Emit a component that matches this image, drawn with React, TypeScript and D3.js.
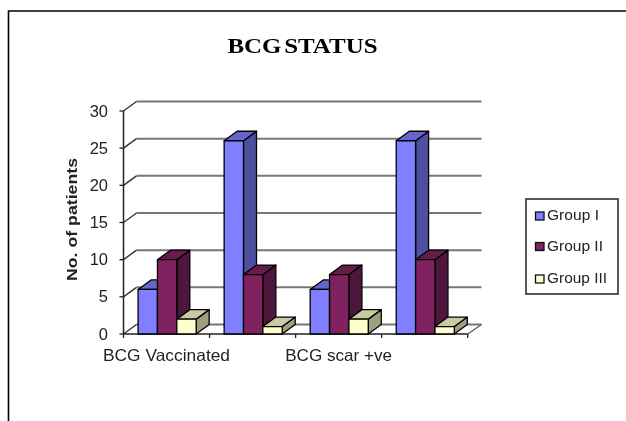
import * as d3 from "d3";

// values; 2nd and 4th category labels are not shown in the original
const categories = ["BCG Vaccinated", "unlabelled a", "BCG scar +ve", "unlabelled b"];
const shownLabels = ["BCG Vaccinated", "", "BCG scar +ve", ""];
const labelWidths = [127, 0, 107, 0];
const seriesNames = ["Group I", "Group II", "Group III"];
const legendWidths = [52, 56, 60];
const groupOne = [6, 26, 6, 26];
const groupTwo = [10, 8, 8, 10];
const groupThree = [2, 1, 2, 1];
const yTicks = [0, 5, 10, 15, 20, 25, 30];

const seriesValues = [groupOne, groupTwo, groupThree];
const fronts = ["#7F7FFF", "#80205F", "#FFFFCC"];
const tops = ["#6565CB", "#661A4C", "#CBCBA3"];
const sides = ["#4F4F9F", "#50143C", "#9F9F7F"];

const W = 626;
const H = 421;
const LEFT = 123.5;
const RIGHT = 467.7;
const BASE = 334;
const TOP = 111;
const DX = 13;
const DY = -9.5;
const WALL_RIGHT = 481.5;
const SANS = "'Liberation Sans', Arial, sans-serif";

const x = d3.scaleBand<string>().domain(categories).range([LEFT, RIGHT]).paddingInner(0.325).paddingOuter(0.1625);
const inner = d3.scaleBand<string>().domain(seriesNames).range([0, x.bandwidth()]);
const y = d3.scaleLinear().domain([0, 30]).range([BASE, TOP]);
const tickXs = d3.range(categories.length + 1).map((i) => LEFT + (i * (RIGHT - LEFT)) / categories.length);

const poly = (pts: [number, number][]) => pts.map((p) => p.join(",")).join(" ");

function Bar({ cat, s, value }: { cat: number; s: number; value: number }) {
  const x0 = x(categories[cat])! + inner(seriesNames[s])! + 0.6;
  const w = inner.bandwidth();
  const y0 = y(value);
  return (
    <g stroke="#000" strokeWidth={1.3} strokeLinejoin="round">
      <polygon
        points={poly([[x0 + w, y0], [x0 + w + DX, y0 + DY], [x0 + w + DX, BASE + DY], [x0 + w, BASE]])}
        fill={sides[s]}
      />
      <polygon
        points={poly([[x0, y0], [x0 + DX, y0 + DY], [x0 + w + DX, y0 + DY], [x0 + w, y0]])}
        fill={tops[s]}
      />
      <rect x={x0} y={y0} width={w} height={BASE - y0} fill={fronts[s]} />
    </g>
  );
}

export default function App() {
  return (
    <svg
      width={W}
      height={H}
      viewBox={`0 0 ${W} ${H}`}
      style={{ position: "absolute", left: 0, top: 0, background: "#fff" }}
    >
      <defs>
        <filter id="soft" x="0" y="0" width="100%" height="100%">
          <feGaussianBlur stdDeviation={0.45} />
        </filter>
      </defs>
      <g filter="url(#soft)">
        <rect width={W} height={H} fill="#fff" />
        {/* frame: only top and left are inside the crop */}
        <path d={`M${W},11 H8.5 V${H}`} fill="none" stroke="#000" strokeWidth={1.6} />

        <text
          x={302.5}
          y={53}
          textAnchor="middle"
          fontFamily="'Liberation Serif', serif"
          fontWeight="bold"
          fontSize={21.5}
          wordSpacing={-3}
          textLength={150}
          lengthAdjust="spacingAndGlyphs"
        >
          BCG STATUS
        </text>

        {/* back wall gridlines and floor edges */}
        {yTicks.map((t) => (
          <g key={t} fill="none">
            <line x1={LEFT + DX} x2={WALL_RIGHT} y1={y(t) + DY} y2={y(t) + DY} stroke="#777" strokeWidth={2} />
            <line x1={LEFT} x2={LEFT + DX} y1={y(t)} y2={y(t) + DY} stroke="#333" strokeWidth={1.4} />
          </g>
        ))}

        {/* axes */}
        <line x1={LEFT} x2={LEFT} y1={TOP} y2={BASE} stroke="#222" strokeWidth={1.5} />
        <line x1={LEFT} x2={RIGHT} y1={BASE} y2={BASE} stroke="#222" strokeWidth={1.5} />
        <line x1={RIGHT} x2={WALL_RIGHT} y1={BASE} y2={BASE + DY} stroke="#555" strokeWidth={1.2} />
        {yTicks.map((t) => (
          <g key={t}>
            <line x1={LEFT - 4} x2={LEFT} y1={y(t)} y2={y(t)} stroke="#222" strokeWidth={1.3} />
            <text x={108} y={y(t) + 5.5} textAnchor="end" fontFamily={SANS} fontSize={16.5} fill="#222">
              {t}
            </text>
          </g>
        ))}
        {tickXs.map((tx) => (
          <line key={tx} x1={tx} x2={tx} y1={BASE} y2={BASE + 4} stroke="#222" strokeWidth={1.3} />
        ))}

        {categories.map((c, i) =>
          seriesNames.map((name, s) => <Bar key={c + name} cat={i} s={s} value={seriesValues[s][i]} />),
        )}

        {shownLabels.map((label, i) =>
          label ? (
            <text
              key={categories[i]}
              x={x(categories[i])! + x.bandwidth() / 2}
              y={360.5}
              textAnchor="middle"
              fontFamily={SANS}
              fontSize={16.5}
              fill="#222"
              textLength={labelWidths[i]}
              lengthAdjust="spacingAndGlyphs"
            >
              {label}
            </text>
          ) : null,
        )}

        <text
          transform="translate(77,219.5) rotate(-90)"
          textAnchor="middle"
          fontFamily={SANS}
          fontWeight="bold"
          fontSize={15.5}
          fill="#222"
          textLength={123}
          lengthAdjust="spacingAndGlyphs"
        >
          No. of patients
        </text>

        {/* legend */}
        <rect x={526} y={199} width={92} height={95} fill="#fff" stroke="#222" strokeWidth={1.5} />
        {seriesNames.map((name, s) => {
          const cy = [216, 246.5, 279][s];
          return (
            <g key={name}>
              <rect x={535.5} y={cy - 4} width={8.5} height={8} fill={fronts[s]} stroke="#111" strokeWidth={1.3} />
              <text
                x={547}
                y={cy + 4}
                fontFamily={SANS}
                fontSize={14}
                fill="#222"
                textLength={legendWidths[s]}
                lengthAdjust="spacingAndGlyphs"
              >
                {name}
              </text>
            </g>
          );
        })}
      </g>
    </svg>
  );
}
